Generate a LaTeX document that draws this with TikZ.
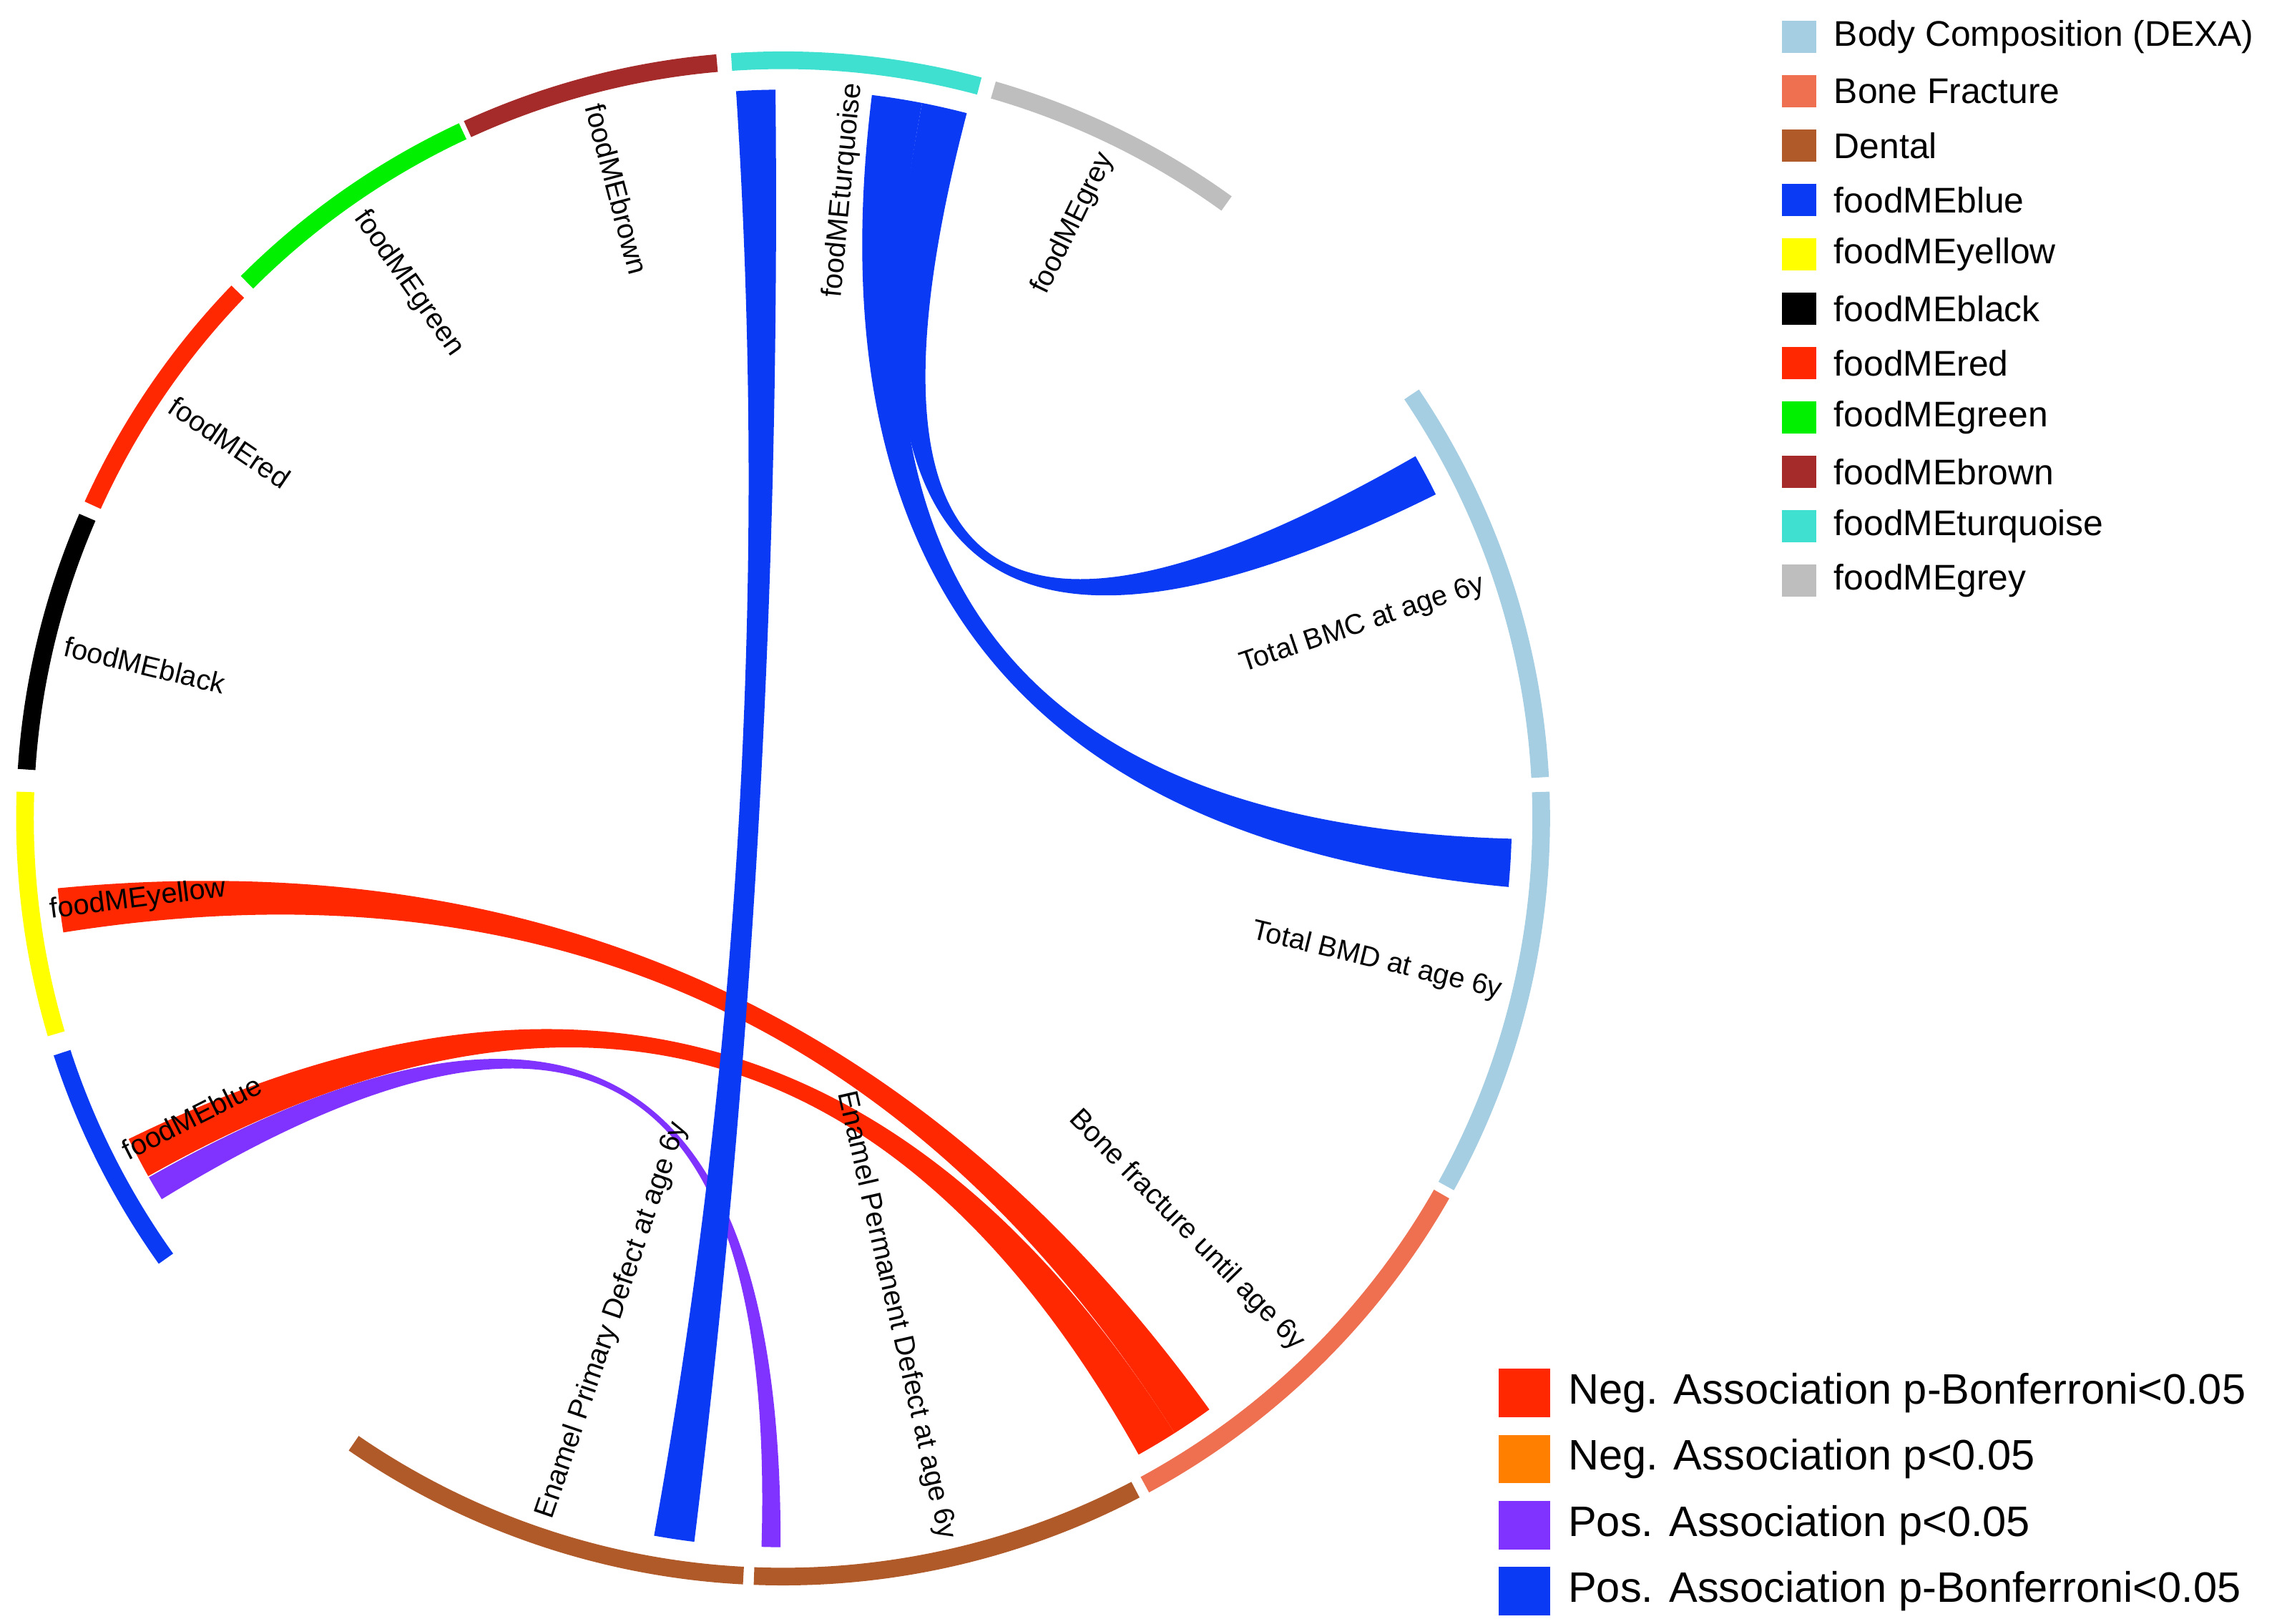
\documentclass[tikz,border=0pt]{standalone}
\usepackage{fontspec}
\setmainfont{Liberation Sans}
\usetikzlibrary{calc}
\definecolor{cturq}{RGB}{64,224,208}
\definecolor{cgrey}{RGB}{190,190,190}
\definecolor{cdexa}{RGB}{166,206,227}
\definecolor{cfrac}{RGB}{239,112,80}
\definecolor{cdent}{RGB}{176,90,42}
\definecolor{cblue}{RGB}{11,58,245}
\definecolor{cyel}{RGB}{255,255,0}
\definecolor{cred}{RGB}{255,40,0}
\definecolor{cgreen}{RGB}{0,240,0}
\definecolor{cbrown}{RGB}{165,42,42}
\definecolor{cpurp}{RGB}{128,50,255}
\definecolor{corange}{RGB}{255,128,0}
\tikzset{seg/.style={line width=0.24cm},
 lab/.style={font=\fontsize{11}{13}\selectfont, inner sep=0pt},
 leg/.style={font=\fontsize{13.8}{16}\selectfont, anchor=west, inner sep=0pt},
 legb/.style={font=\fontsize{16.5}{19}\selectfont, anchor=west, inner sep=0pt}}
\newcommand{\arcseg}[4]{\draw[seg,#3] (#1:516) arc (#1:#2:516) node[coordinate] (#4) {};}
\newcommand{\ribbon}[6]{\fill[#1] (#2:496) arc (#2:#3:496) .. controls ($(#3:496)!0.6667!(0,0)$) and ($(#4:496)!0.6667!(0,0)$) .. (#4:496) arc (#4:#5:496) .. controls ($(#5:496)!0.6667!(0,0)$) and ($(#2:496)!0.6667!(0,0)$) .. cycle node[coordinate] (#6) {};}
\newcommand{\rlab}[3]{\node[lab,anchor=east,rotate=#1] (#3) at (#1:503) {#2};}
\newcommand{\llab}[3]{\node[lab,anchor=west,rotate=#1-180] (#3) at (#1:503) {#2};}
\begin{document}
\begin{tikzpicture}[x=0.02cm,y=0.02cm]
\useasboundingbox (0,0) rectangle (1560,1105);
\begin{scope}[shift={(533,548)}]
\arcseg{93.9}{75}{cturq}{sturq}
\arcseg{73.9}{54.2}{cgrey}{sgrey}
\arcseg{34}{3.1}{cdexa}{sbmc}
\arcseg{2}{-29}{cdexa}{sbmd}
\arcseg{-29.7}{-61.5}{cfrac}{sfrac}
\arcseg{-62.3}{-92.2}{cdent}{sperm}
\arcseg{-93}{-124.5}{cdent}{sprim}
\arcseg{-144.5}{-162}{cblue}{sblue}
\arcseg{-163.5}{-182}{cyel}{syel}
\arcseg{176.3}{156.6}{black}{sblack}
\arcseg{155.6}{136}{cred}{sred}
\arcseg{135}{115}{cgreen}{sgreen}
\arcseg{114.6}{95}{cbrown}{sbrown}
\ribbon{cred}{-57.5}{-54.2}{185.5}{189}{r1}
\ribbon{cred}{206.1}{209.4}{299.2}{302.5}{r2}
\ribbon{cpurp}{209.5}{211.5}{268.3}{269.8}{r3}
\ribbon{cblue}{90.6}{93.7}{259.8}{263}{r4}
\ribbon{cblue}{26.4}{29.8}{75.4}{79}{r5}
\ribbon{cblue}{-5.4}{-1.6}{79}{83}{r6}
\rlab{84.5}{foodMEturquoise}{l1}
\rlab{64}{foodMEgrey}{l2}
\rlab{18.5}{Total BMC at age 6y}{l3}
\rlab{-13.5}{Total BMD at age 6y}{l4}
\rlab{-45.6}{Bone fracture until age 6y}{l5}
\rlab{-77.2}{Enamel Permanent Defect at age 6y}{l6}
\llab{-108.8}{Enamel Primary Defect at age 6y}{l7}
\llab{-153.2}{foodMEblue}{l8}
\llab{-172.8}{foodMEyellow}{l9}
\llab{166.5}{foodMEblack}{l10}
\llab{145.8}{foodMEred}{l11}
\llab{125}{foodMEgreen}{l12}
\llab{104.8}{foodMEbrown}{l13}
\end{scope}
\foreach \c/\t [count=\i] in {cdexa/Body Composition (DEXA),cfrac/Bone Fracture,cdent/Dental,cblue/foodMEblue,cyel/foodMEyellow,black/foodMEblack,cred/foodMEred,cgreen/foodMEgreen,cbrown/foodMEbrown,cturq/foodMEturquoise,cgrey/foodMEgrey}{
 \fill[\c] (1213,{1105-25-37*(\i-1)-11}) rectangle ++(23,22);
 \node[leg] (t\i) at (1248,{1105-25-37*(\i-1)}) {\t};
}
\foreach \c/\t [count=\i] in {cred/Neg. Association p-Bonferroni<0.05,corange/Neg. Association p<0.05,cpurp/Pos. Association p<0.05,cblue/Pos. Association p-Bonferroni<0.05}{
 \fill[\c] (1020,{1105-948-45*(\i-1)-16.5}) rectangle ++(35,33);
 \node[legb] (b\i) at (1067,{1105-948-45*(\i-1)}) {\t};
}
\end{tikzpicture}
\end{document}
